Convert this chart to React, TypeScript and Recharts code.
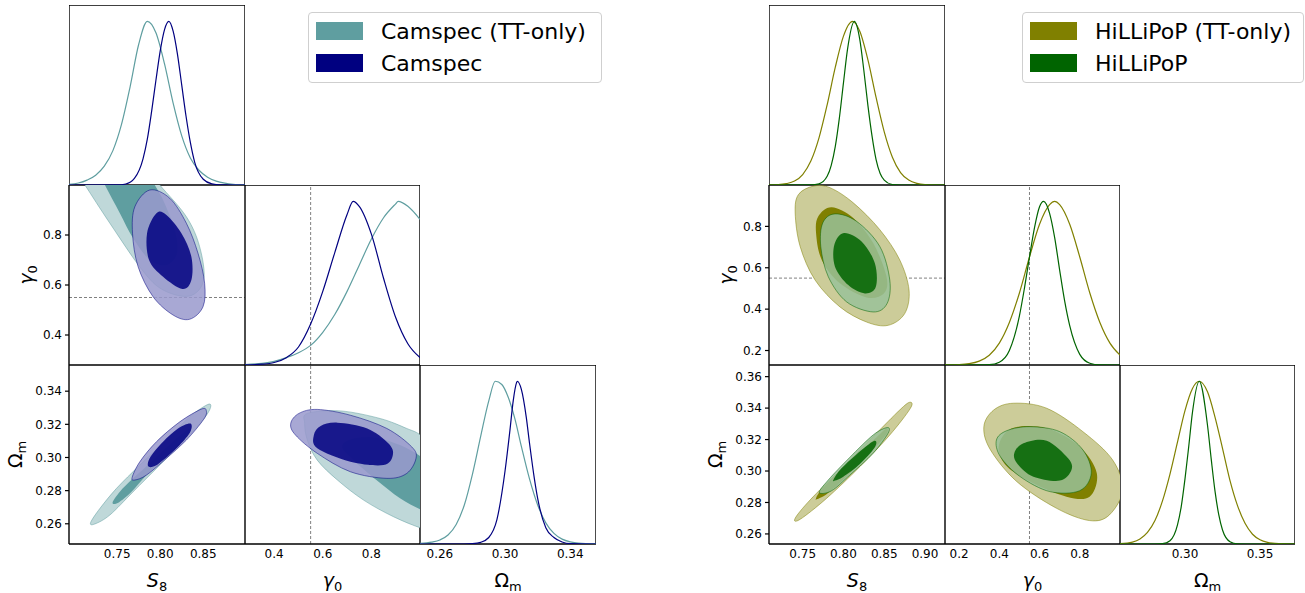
import React from "react";
import { Legend, ReferenceLine, Scatter, ScatterChart, XAxis, YAxis } from "recharts";

type Pt = [number, number];

// ---------- axis ranges / ticks ----------
const densRange: [number, number] = [0, 1.1];

const csS8Range: [number, number] = [0.694, 0.8985];
const csGammaRange: [number, number] = [0.28, 1.0];
const csOmRange: [number, number] = [0.2478, 0.3558];
const csS8Ticks = [0.75, 0.8, 0.85];
const csGammaTicks = [0.4, 0.6, 0.8];
const csOmTicks = [0.26, 0.28, 0.3, 0.32, 0.34];
const csOmLabelTicks = [0.26, 0.3, 0.34];

const hlS8Range: [number, number] = [0.7087, 0.9245];
const hlGammaRange: [number, number] = [0.13, 1.0];
const hlOmRange: [number, number] = [0.2536, 0.3674];
const hlOmDiagRange: [number, number] = [0.2567, 0.3733];
const hlS8Ticks = [0.75, 0.8, 0.85, 0.9];
const hlGammaTicks = [0.2, 0.4, 0.6, 0.8];
const hlOmTicks = [0.26, 0.28, 0.3, 0.32, 0.34, 0.36];
const hlOmLabelTicks = [0.3, 0.35];

const gammaRef = 0.55;

const csNames = ["Camspec (TT-only)", "Camspec"];
const hlNames = ["HiLLiPoP (TT-only)", "HiLLiPoP"];

// ---------- 1D marginals (value, normalised density) ----------
const csTT_S8: Pt[] = [
  [0.694, 0.004], [0.705, 0.012], [0.715, 0.03], [0.725, 0.06], [0.735, 0.115], [0.745, 0.21],
  [0.755, 0.37], [0.765, 0.6], [0.775, 0.86], [0.785, 1.0], [0.795, 0.93], [0.805, 0.74],
  [0.815, 0.5], [0.825, 0.3], [0.835, 0.165], [0.845, 0.09], [0.855, 0.048], [0.865, 0.024],
  [0.875, 0.011], [0.885, 0.004], [0.8985, 0.001],
];
const cs_S8: Pt[] = [
  [0.694, 0], [0.75, 0.0005], [0.76, 0.006], [0.77, 0.04], [0.78, 0.16], [0.785, 0.28], [0.79, 0.45],
  [0.795, 0.64], [0.8, 0.82], [0.805, 0.95], [0.81, 1.0], [0.815, 0.94], [0.82, 0.8], [0.825, 0.61],
  [0.83, 0.42], [0.835, 0.26], [0.84, 0.14], [0.85, 0.035], [0.86, 0.007], [0.87, 0.001], [0.8985, 0],
];
const csTT_gamma: Pt[] = [
  [0.28, 0.003], [0.35, 0.01], [0.4, 0.022], [0.45, 0.045], [0.5, 0.075], [0.55, 0.12], [0.6, 0.2],
  [0.65, 0.31], [0.7, 0.45], [0.75, 0.61], [0.8, 0.77], [0.85, 0.9], [0.9, 0.985], [0.91, 1.0],
  [0.95, 0.97], [1.0, 0.89],
];
const cs_gamma: Pt[] = [
  [0.28, 0.001], [0.35, 0.005], [0.4, 0.015], [0.45, 0.045], [0.5, 0.11], [0.55, 0.25], [0.6, 0.45],
  [0.65, 0.69], [0.7, 0.92], [0.725, 1.0], [0.75, 0.97], [0.8, 0.8], [0.85, 0.53], [0.9, 0.29],
  [0.95, 0.13], [1.0, 0.045],
];
const csTT_Om: Pt[] = [
  [0.2478, 0.004], [0.255, 0.012], [0.26, 0.025], [0.265, 0.055], [0.27, 0.12], [0.275, 0.24],
  [0.28, 0.43], [0.285, 0.66], [0.29, 0.88], [0.294, 1.0], [0.298, 0.98], [0.302, 0.9], [0.306, 0.77],
  [0.31, 0.6], [0.315, 0.4], [0.32, 0.24], [0.325, 0.13], [0.33, 0.065], [0.335, 0.03], [0.34, 0.013],
  [0.345, 0.005], [0.3558, 0.001],
];
const cs_Om: Pt[] = [
  [0.2478, 0], [0.275, 0], [0.28, 0.002], [0.285, 0.01], [0.29, 0.04], [0.295, 0.15], [0.3, 0.45],
  [0.303, 0.7], [0.305, 0.88], [0.307, 0.99], [0.3075, 1.0], [0.31, 0.95], [0.313, 0.78], [0.315, 0.62],
  [0.318, 0.4], [0.32, 0.28], [0.325, 0.1], [0.33, 0.04], [0.335, 0.012], [0.34, 0.002], [0.3558, 0],
];

const hlTT_S8: Pt[] = [
  [0.7087, 0.0005], [0.72, 0.002], [0.73, 0.008], [0.74, 0.024], [0.75, 0.064], [0.76, 0.146],
  [0.77, 0.288], [0.78, 0.49], [0.79, 0.72], [0.8, 0.91], [0.811, 1.0], [0.82, 0.94], [0.83, 0.765],
  [0.84, 0.535], [0.85, 0.325], [0.86, 0.17], [0.87, 0.076], [0.88, 0.03], [0.89, 0.01], [0.9, 0.003],
  [0.9245, 0],
];
const hl_S8: Pt[] = [
  [0.7087, 0], [0.76, 0.0006], [0.77, 0.007], [0.78, 0.053], [0.785, 0.12], [0.79, 0.236],
  [0.795, 0.41], [0.8, 0.624], [0.805, 0.83], [0.8134, 1.0], [0.82, 0.89], [0.825, 0.7], [0.83, 0.485],
  [0.835, 0.3], [0.84, 0.155], [0.845, 0.07], [0.85, 0.03], [0.86, 0.003], [0.87, 0], [0.9245, 0],
];
const hlTT_gamma: Pt[] = [
  [0.13, 0.0004], [0.2, 0.0024], [0.25, 0.008], [0.3, 0.024], [0.35, 0.06], [0.4, 0.134], [0.45, 0.26],
  [0.5, 0.44], [0.55, 0.66], [0.6, 0.86], [0.65, 0.98], [0.675, 1.0], [0.7, 0.98], [0.75, 0.86],
  [0.8, 0.66], [0.85, 0.44], [0.9, 0.26], [0.95, 0.134], [1.0, 0.06],
];
const hl_gamma: Pt[] = [
  [0.13, 0], [0.3, 0.0002], [0.35, 0.002], [0.4, 0.017], [0.45, 0.088], [0.5, 0.3], [0.525, 0.47],
  [0.55, 0.66], [0.575, 0.84], [0.6, 0.967], [0.62, 1.0], [0.65, 0.927], [0.675, 0.78], [0.7, 0.58],
  [0.725, 0.39], [0.75, 0.24], [0.8, 0.065], [0.85, 0.011], [0.9, 0.001], [1.0, 0],
];
const hlTT_Om: Pt[] = [
  [0.2567, 0.002], [0.265, 0.012], [0.27, 0.031], [0.275, 0.071], [0.28, 0.144], [0.285, 0.265],
  [0.29, 0.43], [0.295, 0.626], [0.3, 0.82], [0.305, 0.956], [0.3095, 1.0], [0.315, 0.935], [0.32, 0.78],
  [0.325, 0.588], [0.33, 0.39], [0.335, 0.236], [0.34, 0.127], [0.345, 0.06], [0.35, 0.026],
  [0.355, 0.01], [0.36, 0.0034], [0.3733, 0],
];
const hl_Om: Pt[] = [
  [0.2567, 0], [0.28, 0], [0.285, 0.002], [0.29, 0.02], [0.295, 0.117], [0.2975, 0.23], [0.3, 0.4],
  [0.3025, 0.6], [0.305, 0.81], [0.3095, 1.0], [0.315, 0.73], [0.3175, 0.52], [0.32, 0.325],
  [0.3225, 0.18], [0.325, 0.086], [0.33, 0.014], [0.335, 0.001], [0.34, 0], [0.3733, 0],
];

// ---------- 2D contours (outer = 95%, inner = 68%) ----------
const csTT_S8g_95: Pt[] = [
  [0.735, 1.2], [0.6935, 1.1], [0.7125, 1.0], [0.7415, 0.847], [0.779, 0.66], [0.8033, 0.58],
  [0.8342, 0.556], [0.8505, 0.62], [0.8458, 0.753], [0.8304, 0.873], [0.7995, 1.0], [0.7752, 1.1],
];
const csTT_S8g_68: Pt[] = [
  [0.75, 1.18], [0.72, 1.1], [0.7357, 1.0], [0.7531, 0.887], [0.7685, 0.787], [0.7879, 0.7],
  [0.8072, 0.68], [0.8195, 0.727], [0.8169, 0.82], [0.8033, 0.94], [0.7937, 1.0], [0.778, 1.1],
];
const cs_S8g_95: Pt[] = [
  [0.7879, 0.98], [0.7705, 0.913], [0.7678, 0.807], [0.7743, 0.673], [0.7917, 0.553], [0.8149, 0.48],
  [0.8342, 0.463], [0.8497, 0.513], [0.8516, 0.607], [0.8439, 0.727], [0.8304, 0.847], [0.8111, 0.947],
];
const cs_S8g_68: Pt[] = [
  [0.7956, 0.887], [0.7847, 0.807], [0.787, 0.7], [0.8033, 0.633], [0.8258, 0.584], [0.8362, 0.62],
  [0.8362, 0.713], [0.8246, 0.807], [0.8072, 0.88],
];
const csTT_S8Om_95: Pt[] = [
  [0.7191, 0.2607], [0.73, 0.2693], [0.7493, 0.2814], [0.7763, 0.2954], [0.8072, 0.3105], [0.8342, 0.3245],
  [0.8566, 0.3322], [0.8555, 0.3269], [0.8342, 0.3135], [0.7995, 0.2954], [0.7685, 0.2793], [0.7415, 0.2653],
  [0.7241, 0.2599],
];
const csTT_S8Om_68: Pt[] = [
  [0.7446, 0.2727], [0.7531, 0.2793], [0.7685, 0.2874], [0.7917, 0.2984], [0.8188, 0.3115], [0.835, 0.3175],
  [0.8304, 0.3121], [0.8072, 0.3004], [0.7841, 0.2894], [0.7667, 0.2793], [0.7512, 0.2727],
];
const cs_S8Om_95: Pt[] = [
  [0.7674, 0.288], [0.7763, 0.2974], [0.7956, 0.3095], [0.8227, 0.3215], [0.8478, 0.3292], [0.8536, 0.3281],
  [0.8505, 0.323], [0.8304, 0.3105], [0.8072, 0.2995], [0.7841, 0.2894], [0.7705, 0.2864],
];
const cs_S8Om_68: Pt[] = [
  [0.7859, 0.2948], [0.7887, 0.3004], [0.8033, 0.3095], [0.8207, 0.3175], [0.835, 0.3205], [0.835, 0.3155],
  [0.8227, 0.3075], [0.8072, 0.3], [0.7937, 0.2948],
];
const csTT_gOm_95: Pt[] = [
  [0.5254, 0.3205], [0.5364, 0.3266], [0.6727, 0.3281], [0.8363, 0.3235], [0.9455, 0.3175], [1.0064, 0.3129],
  [1.08, 0.3], [1.08, 0.255], [1.0064, 0.2573], [0.8905, 0.2643], [0.7678, 0.2743], [0.6602, 0.2864],
  [0.5773, 0.2984], [0.5364, 0.3105],
];
const csTT_gOm_68: Pt[] = [
  [0.6795, 0.3061], [0.7136, 0.3109], [0.8091, 0.3121], [0.9177, 0.3075], [1.0064, 0.3004], [1.06, 0.295],
  [1.06, 0.265], [1.0064, 0.2683], [0.9177, 0.2754], [0.8207, 0.2864], [0.7272, 0.2984],
];
const cs_gOm_95: Pt[] = [
  [0.4681, 0.3205], [0.502, 0.3266], [0.5773, 0.329], [0.7136, 0.3255], [0.8637, 0.3175], [0.966, 0.3064],
  [0.9836, 0.2995], [0.9455, 0.2904], [0.8637, 0.2874], [0.7136, 0.2914], [0.5773, 0.3025], [0.488, 0.3135],
];
const cs_gOm_68: Pt[] = [
  [0.5634, 0.3135], [0.5913, 0.319], [0.6602, 0.321], [0.7829, 0.3175], [0.8705, 0.3085], [0.8883, 0.3015],
  [0.8498, 0.2954], [0.7136, 0.2974], [0.5773, 0.3055],
];

const hlTT_S8g_95: Pt[] = [
  [0.7631, 0.9946], [0.7448, 0.954], [0.7408, 0.865], [0.7469, 0.7027], [0.7652, 0.5406], [0.7957, 0.4107],
  [0.8283, 0.3377], [0.8547, 0.3217], [0.8751, 0.3786], [0.8804, 0.492], [0.869, 0.638], [0.8446, 0.784],
  [0.812, 0.9139], [0.7835, 0.9869],
];
const hlTT_S8g_68: Pt[] = [
  [0.7856, 0.8925], [0.7692, 0.8487], [0.7664, 0.7679], [0.7734, 0.638], [0.7957, 0.5246], [0.8283, 0.4564],
  [0.8495, 0.4759], [0.8528, 0.5567], [0.8364, 0.7192], [0.812, 0.8409],
];
const hl_S8g_95: Pt[] = [
  [0.7896, 0.8603], [0.7746, 0.8165], [0.7722, 0.7027], [0.7814, 0.5567], [0.8039, 0.435], [0.8364, 0.3864],
  [0.8535, 0.4272], [0.8568, 0.5406], [0.8446, 0.7027], [0.8161, 0.8243],
];
const hl_S8g_68: Pt[] = [
  [0.8006, 0.7679], [0.7888, 0.711], [0.7896, 0.6054], [0.8059, 0.5163], [0.8263, 0.4759], [0.8397, 0.508],
  [0.8385, 0.6219], [0.8222, 0.727],
];
const hlTT_S8Om_95: Pt[] = [
  [0.7408, 0.27], [0.7591, 0.2816], [0.7957, 0.3007], [0.8364, 0.3219], [0.869, 0.3388], [0.8812, 0.3437],
  [0.8821, 0.3399], [0.8568, 0.3229], [0.8202, 0.3028], [0.7795, 0.2827], [0.7469, 0.2693],
];
const hlTT_S8Om_68: Pt[] = [
  [0.7664, 0.2827], [0.7762, 0.2901], [0.808, 0.306], [0.8406, 0.3215], [0.8528, 0.3272], [0.8507, 0.3219],
  [0.8181, 0.3039], [0.7835, 0.2869], [0.7704, 0.2827],
];
const hl_S8Om_95: Pt[] = [
  [0.7704, 0.2863], [0.7814, 0.2943], [0.808, 0.3088], [0.8364, 0.3229], [0.8535, 0.3276], [0.8547, 0.324],
  [0.8364, 0.3113], [0.808, 0.2975], [0.7856, 0.2875],
];
const hl_S8Om_68: Pt[] = [
  [0.7876, 0.2943], [0.7957, 0.3007], [0.8161, 0.3107], [0.8373, 0.3191], [0.8385, 0.3151], [0.8202, 0.3045],
  [0.7998, 0.2964], [0.7896, 0.2939],
];
const hlTT_gOm_95: Pt[] = [
  [0.3232, 0.3282], [0.3724, 0.3388], [0.4709, 0.3431], [0.6355, 0.3399], [0.8158, 0.325], [0.9635, 0.307],
  [1.0128, 0.288], [0.9473, 0.2721], [0.8488, 0.2685], [0.6847, 0.2763], [0.4877, 0.2932], [0.3562, 0.3134],
];
const hlTT_gOm_68: Pt[] = [
  [0.397, 0.3155], [0.463, 0.3272], [0.6355, 0.3272], [0.7995, 0.3155], [0.8847, 0.2986], [0.8488, 0.2837],
  [0.734, 0.2837], [0.5695, 0.2922], [0.4384, 0.3028],
];
const hl_gOm_95: Pt[] = [
  [0.3857, 0.3197], [0.4384, 0.3257], [0.5532, 0.3282], [0.701, 0.325], [0.8158, 0.3134], [0.8571, 0.2986],
  [0.7995, 0.2875], [0.6517, 0.2869], [0.5039, 0.2964], [0.4054, 0.3091],
];
const hl_gOm_68: Pt[] = [
  [0.4744, 0.3113], [0.5202, 0.3177], [0.6355, 0.3193], [0.7419, 0.3081], [0.7586, 0.3007], [0.701, 0.2939],
  [0.5695, 0.2964], [0.4906, 0.3045],
];

// ---------- colours ----------
const csTTColor = "#5f9ea0";
const csTTLight = "#bfd8d9";
const csColor = "#000080";
const csLight = "#9999cc";
const hlTTColor = "#808000";
const hlTTLight = "#cccc99";
const hlColor = "#006400";
const hlLight = "#99c199";

const xy = (pts: Pt[]) => pts.map(([x, y]) => ({ x, y }));

// closed Catmull-Rom curve so the contour passes through the read points
function closedSpline(context: any) {
  let pts: number[][] = [];
  return {
    areaStart() {},
    areaEnd() {},
    lineStart() {
      pts = [];
    },
    point(x: number, y: number) {
      pts.push([+x, +y]);
    },
    lineEnd() {
      const n = pts.length;
      if (n < 3) return;
      context.moveTo(pts[0][0], pts[0][1]);
      for (let i = 0; i < n; i++) {
        const p0 = pts[(i - 1 + n) % n];
        const p1 = pts[i];
        const p2 = pts[(i + 1) % n];
        const p3 = pts[(i + 2) % n];
        context.bezierCurveTo(
          p1[0] + (p2[0] - p0[0]) / 6,
          p1[1] + (p2[1] - p0[1]) / 6,
          p2[0] - (p3[0] - p1[0]) / 6,
          p2[1] - (p3[1] - p1[1]) / 6,
          p2[0],
          p2[1],
        );
      }
      context.closePath();
    },
  };
}

const blank = () => <g />;

function region(key: string, pts: Pt[], fill: string, opacity: number, edge?: string) {
  return (
    <Scatter
      key={key}
      xAxisId="m"
      yAxisId="m"
      data={xy(pts)}
      fill={fill}
      shape={blank}
      legendType="none"
      line={{ fill, fillOpacity: opacity, stroke: edge ?? "none", strokeOpacity: 0.5, strokeWidth: 1 }}
      lineType="joint"
      lineJointType={closedSpline}
      isAnimationActive={false}
    />
  );
}

function density(key: string, name: string, pts: Pt[], color: string) {
  return (
    <Scatter
      key={key}
      name={name}
      xAxisId="m"
      yAxisId="m"
      data={xy(pts)}
      fill={color}
      shape={blank}
      legendType="rect"
      line={{ stroke: color, strokeWidth: 1.2, fill: "none" }}
      lineType="joint"
      lineJointType="monotoneX"
      isAnimationActive={false}
    />
  );
}

const vRef = (
  <ReferenceLine key="vref" xAxisId="m" yAxisId="m" x={gammaRef} stroke="#808080" strokeDasharray="3 2" />
);
const hRef = (
  <ReferenceLine key="href" xAxisId="m" yAxisId="m" y={gammaRef} stroke="#808080" strokeDasharray="3 2" />
);

// axis titles in mathtext style: main symbol + subscript
function xTitle(main: string, sub: string, italic: boolean) {
  return (props: any) => {
    const vb = props.viewBox ?? { x: 0, y: 0, width: 0, height: 0 };
    return (
      <text x={vb.x + vb.width / 2} y={vb.y + 43} textAnchor="middle" fontSize={19} fill="#000">
        <tspan fontStyle={italic ? "italic" : "normal"}>{main}</tspan>
        <tspan fontSize={13} dy={4}>
          {sub}
        </tspan>
      </text>
    );
  };
}

function yTitle(main: string, sub: string, italic: boolean, base: number) {
  return (props: any) => {
    const vb = props.viewBox ?? { x: 0, y: 0, width: 0, height: 0 };
    const x = vb.x + base;
    const y = vb.y + vb.height / 2;
    return (
      <text x={x} y={y} transform={`rotate(-90 ${x} ${y})`} textAnchor="middle" fontSize={19} fill="#000">
        <tspan fontStyle={italic ? "italic" : "normal"}>{main}</tspan>
        <tspan fontSize={13} dy={4}>
          {sub}
        </tspan>
      </text>
    );
  };
}

function legendBox(width: number, names: string[]) {
  return (props: any) => {
    const payload: any[] = props.payload ?? [];
    const items = names.map((n) => payload.find((p) => p.value === n)).filter(Boolean);
    return (
      <div
        style={{
          boxSizing: "border-box",
          width,
          height: 71,
          border: "1.5px solid #cfcfcf",
          borderRadius: 4,
          background: "#fff",
          padding: "2px 0 0 7px",
          fontSize: 22,
          color: "#000",
          textAlign: "left",
        }}
      >
        {items.map((p: any) => (
          <div key={p.value} style={{ display: "flex", alignItems: "center", height: 32 }}>
            <span style={{ display: "inline-block", width: 47, height: 18, background: p.color, marginRight: 18 }} />
            <span style={{ whiteSpace: "nowrap" }}>{p.value}</span>
          </div>
        ))}
      </div>
    );
  };
}

const LW = 69;
const LH = 49;

interface PanelProps {
  x: number;
  y: number;
  w: number;
  h: number;
  xd: [number, number];
  yd: [number, number];
  xt: number[];
  yt?: number[];
  xLabelTicks?: number[];
  xDigits?: number;
  yDigits?: number;
  xLab?: any;
  yLab?: any;
  diag?: boolean;
  bottomMarks?: boolean;
  children?: any;
}

function Panel(p: PanelProps) {
  const showX = !!p.xLab;
  const showY = !!p.yLab;
  const width = p.w + (showY ? LW : 0);
  const height = p.h + (showX ? LH : 0);
  const frame = { stroke: "#000", strokeWidth: 1.4 };
  const marks = { stroke: "#000", strokeWidth: 1.2 };
  const yt = p.yt ?? [0.5];
  const xd = p.xDigits ?? 2;
  const yd = p.yDigits ?? 2;
  return (
    <div style={{ position: "absolute", left: p.x - (showY ? LW : 0), top: p.y }}>
      <ScatterChart width={width} height={height} margin={{ top: 0, right: 0, bottom: 0, left: 0 }}>
        <XAxis
          xAxisId="m"
          type="number"
          dataKey="x"
          domain={p.xd}
          allowDataOverflow
          hide={!showX}
          height={LH}
          ticks={p.xLabelTicks ?? p.xt}
          interval={0}
          tickFormatter={(v: number) => v.toFixed(xd)}
          axisLine={false}
          tickLine={false}
          tickSize={3}
          tickMargin={2}
          tick={{ fontSize: 12, fill: "#000" }}
          label={showX ? { content: p.xLab } : undefined}
        />
        <YAxis
          yAxisId="m"
          type="number"
          dataKey="y"
          domain={p.yd}
          allowDataOverflow
          hide={!showY}
          width={LW}
          ticks={yt}
          interval={0}
          tickFormatter={(v: number) => v.toFixed(yd)}
          axisLine={false}
          tickLine={marks}
          tickSize={4}
          tickMargin={3}
          tick={{ fontSize: 12, fill: "#000" }}
          label={showY ? { content: p.yLab } : undefined}
        />
        <XAxis
          xAxisId="b"
          orientation="bottom"
          mirror
          type="number"
          domain={p.xd}
          allowDataOverflow
          height={1}
          ticks={p.xLabelTicks ?? p.xt}
          interval={0}
          tick={false}
          tickLine={p.diag && !p.bottomMarks ? false : marks}
          tickSize={5}
          axisLine={frame}
        />
        <XAxis
          xAxisId="t"
          orientation="top"
          mirror
          type="number"
          domain={p.xd}
          allowDataOverflow
          height={1}
          ticks={p.xt}
          interval={0}
          tick={false}
          tickLine={p.diag ? false : marks}
          tickSize={5}
          axisLine={frame}
        />
        <YAxis
          yAxisId="l"
          orientation="left"
          mirror
          type="number"
          domain={p.yd}
          allowDataOverflow
          width={1}
          ticks={yt}
          interval={0}
          tick={false}
          tickLine={p.diag ? false : marks}
          tickSize={5}
          axisLine={frame}
        />
        <YAxis
          yAxisId="r"
          orientation="right"
          mirror
          type="number"
          domain={p.yd}
          allowDataOverflow
          width={1}
          ticks={yt}
          interval={0}
          tick={false}
          tickLine={p.diag ? false : marks}
          tickSize={5}
          axisLine={frame}
        />
        {p.children}
      </ScatterChart>
    </div>
  );
}

export default function App() {
  const L = [69, 245, 420];
  const LWs = [176, 175, 176];
  const R = [769, 945, 1120];
  const RWs = [176, 175, 175];
  const T = [5, 185, 365];
  const H = [180, 180, 179];

  return (
    <div
      style={{
        position: "absolute",
        left: 0,
        top: 0,
        width: 1305,
        height: 593,
        background: "#fff",
        fontFamily: '"DejaVu Sans", sans-serif',
      }}
    >
      {/* ---------------- Camspec triangle ---------------- */}
      <Panel x={L[0]} y={T[0]} w={LWs[0]} h={H[0]} xd={csS8Range} yd={densRange} xt={csS8Ticks} diag bottomMarks>
        {density("tt", csNames[0], csTT_S8, csTTColor)}
        {density("all", csNames[1], cs_S8, csColor)}
        <Legend
          key="lg"
          layout="vertical"
          align="center"
          verticalAlign="middle"
          wrapperStyle={{ left: 239, top: 7, width: 300 }}
          content={legendBox(294, csNames)}
        />
      </Panel>
      <Panel
        x={L[0]}
        y={T[1]}
        w={LWs[0]}
        h={H[1]}
        xd={csS8Range}
        yd={csGammaRange}
        xt={csS8Ticks}
        yt={csGammaTicks}
        yDigits={1}
        yLab={yTitle("γ", "0", true, 33)}
      >
        {region("a", csTT_S8g_95, csTTLight, 1, csTTColor)}
        {region("b", csTT_S8g_68, csTTColor, 1)}
        {region("c", cs_S8g_95, csLight, 0.85, csColor)}
        {region("d", cs_S8g_68, csColor, 0.85)}
        {hRef}
      </Panel>
      <Panel x={L[1]} y={T[1]} w={LWs[1]} h={H[1]} xd={csGammaRange} yd={densRange} xt={csGammaTicks} diag bottomMarks>
        {vRef}
        {density("tt", csNames[0], csTT_gamma, csTTColor)}
        {density("all", csNames[1], cs_gamma, csColor)}
      </Panel>
      <Panel
        x={L[0]}
        y={T[2]}
        w={LWs[0]}
        h={H[2]}
        xd={csS8Range}
        yd={csOmRange}
        xt={csS8Ticks}
        yt={csOmTicks}
        xLab={xTitle("S", "8", true)}
        yLab={yTitle("Ω", "m", false, 22)}
      >
        {region("a", csTT_S8Om_95, csTTLight, 1, csTTColor)}
        {region("b", csTT_S8Om_68, csTTColor, 1)}
        {region("c", cs_S8Om_95, csLight, 0.85, csColor)}
        {region("d", cs_S8Om_68, csColor, 0.85)}
      </Panel>
      <Panel
        x={L[1]}
        y={T[2]}
        w={LWs[1]}
        h={H[2]}
        xd={csGammaRange}
        yd={csOmRange}
        xt={csGammaTicks}
        yt={csOmTicks}
        xDigits={1}
        xLab={xTitle("γ", "0", true)}
      >
        {region("a", csTT_gOm_95, csTTLight, 1, csTTColor)}
        {region("b", csTT_gOm_68, csTTColor, 1)}
        {region("c", cs_gOm_95, csLight, 0.85, csColor)}
        {region("d", cs_gOm_68, csColor, 0.85)}
        {vRef}
      </Panel>
      <Panel
        x={L[2]}
        y={T[2]}
        w={LWs[2]}
        h={H[2]}
        xd={csOmRange}
        yd={densRange}
        xt={csOmLabelTicks}
        xLabelTicks={csOmLabelTicks}
        diag
        xLab={xTitle("Ω", "m", false)}
      >
        {density("tt", csNames[0], csTT_Om, csTTColor)}
        {density("all", csNames[1], cs_Om, csColor)}
      </Panel>

      {/* ---------------- HiLLiPoP triangle ---------------- */}
      <Panel x={R[0]} y={T[0]} w={RWs[0]} h={H[0]} xd={hlS8Range} yd={densRange} xt={hlS8Ticks} diag bottomMarks>
        {density("tt", hlNames[0], hlTT_S8, hlTTColor)}
        {density("all", hlNames[1], hl_S8, hlColor)}
        <Legend
          key="lg"
          layout="vertical"
          align="center"
          verticalAlign="middle"
          wrapperStyle={{ left: 253, top: 7, width: 290 }}
          content={legendBox(282, hlNames)}
        />
      </Panel>
      <Panel
        x={R[0]}
        y={T[1]}
        w={RWs[0]}
        h={H[1]}
        xd={hlS8Range}
        yd={hlGammaRange}
        xt={hlS8Ticks}
        yt={hlGammaTicks}
        yDigits={1}
        yLab={yTitle("γ", "0", true, 33)}
      >
        {region("a", hlTT_S8g_95, hlTTLight, 1, hlTTColor)}
        {region("b", hlTT_S8g_68, hlTTColor, 1)}
        {region("c", hl_S8g_95, hlLight, 0.85, hlColor)}
        {region("d", hl_S8g_68, hlColor, 0.85)}
        {hRef}
      </Panel>
      <Panel x={R[1]} y={T[1]} w={RWs[1]} h={H[1]} xd={hlGammaRange} yd={densRange} xt={hlGammaTicks} diag bottomMarks>
        {vRef}
        {density("tt", hlNames[0], hlTT_gamma, hlTTColor)}
        {density("all", hlNames[1], hl_gamma, hlColor)}
      </Panel>
      <Panel
        x={R[0]}
        y={T[2]}
        w={RWs[0]}
        h={H[2]}
        xd={hlS8Range}
        yd={hlOmRange}
        xt={hlS8Ticks}
        yt={hlOmTicks}
        xLab={xTitle("S", "8", true)}
        yLab={yTitle("Ω", "m", false, 22)}
      >
        {region("a", hlTT_S8Om_95, hlTTLight, 1, hlTTColor)}
        {region("b", hlTT_S8Om_68, hlTTColor, 1)}
        {region("c", hl_S8Om_95, hlLight, 0.85, hlColor)}
        {region("d", hl_S8Om_68, hlColor, 0.85)}
      </Panel>
      <Panel
        x={R[1]}
        y={T[2]}
        w={RWs[1]}
        h={H[2]}
        xd={hlGammaRange}
        yd={hlOmRange}
        xt={hlGammaTicks}
        yt={hlOmTicks}
        xDigits={1}
        xLab={xTitle("γ", "0", true)}
      >
        {region("a", hlTT_gOm_95, hlTTLight, 1, hlTTColor)}
        {region("b", hlTT_gOm_68, hlTTColor, 1)}
        {region("c", hl_gOm_95, hlLight, 0.85, hlColor)}
        {region("d", hl_gOm_68, hlColor, 0.85)}
        {vRef}
      </Panel>
      <Panel
        x={R[2]}
        y={T[2]}
        w={RWs[2]}
        h={H[2]}
        xd={hlOmDiagRange}
        yd={densRange}
        xt={hlOmLabelTicks}
        xLabelTicks={hlOmLabelTicks}
        diag
        xLab={xTitle("Ω", "m", false)}
      >
        {density("tt", hlNames[0], hlTT_Om, hlTTColor)}
        {density("all", hlNames[1], hl_Om, hlColor)}
      </Panel>
    </div>
  );
}
